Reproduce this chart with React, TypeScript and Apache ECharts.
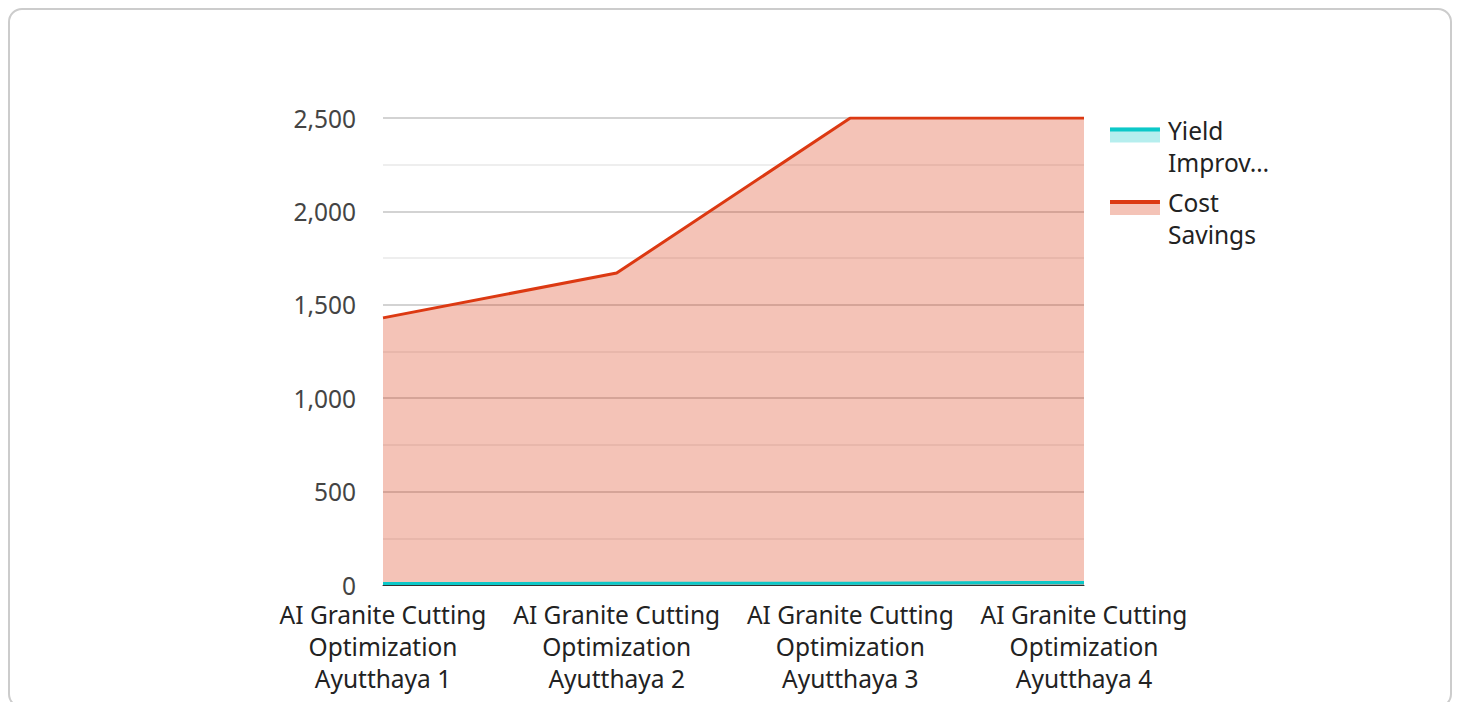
import React, { useEffect, useRef } from "react";
import * as echarts from "echarts";

const categories = [
  "AI Granite Cutting Optimization Ayutthaya 1",
  "AI Granite Cutting Optimization Ayutthaya 2",
  "AI Granite Cutting Optimization Ayutthaya 3",
  "AI Granite Cutting Optimization Ayutthaya 4",
];
const yieldImprovement = [8, 9, 10, 14];
const costSavings = [1430, 1670, 2500, 2500];
const seriesNames = ["Yield Improvement", "Cost Savings"];
const legendLines: Record<string, string[]> = {
  "Yield Improvement": ["Yield", "Improv…"],
  "Cost Savings": ["Cost", "Savings"],
};

export default function App() {
  const ref = useRef<HTMLDivElement>(null);
  useEffect(() => {
    if (!ref.current) return;
    const chart = echarts.init(ref.current, undefined, { renderer: "svg" });
    const font = "'Noto Sans', sans-serif";
    const fs = 24.5;
    const legendFmt = (n: string) => {
      const l = legendLines[n] ?? [n];
      return "{g|}\n" + l.map((s) => "{t|" + s + "}").join("\n");
    };
    const mkText = (color: string) => ({
      fontFamily: font,
      fontSize: fs,
      color,
      rich: {
        g: { lineHeight: 22, fontSize: 12, fontFamily: font },
        t: { lineHeight: 32, fontSize: fs, color, fontFamily: font, padding: [0, 0, 0, 3] },
      },
    });
    const legendBase = {
      orient: "vertical",
      left: 1095,
      top: 82,
      itemWidth: 50,
      itemHeight: 15,
      itemGap: -5,
      data: seriesNames,
      selectedMode: false,
      formatter: legendFmt,
    };
    chart.setOption({
      animation: false,
      textStyle: { fontFamily: font },
      grid: { left: 373, top: 108, right: 366, bottom: 121 },
      legend: [
        {
          ...legendBase,
          icon: "rect",
          itemStyle: { opacity: 0.3 },
          textStyle: mkText("#222"),
        },
        {
          ...legendBase,
          icon: "path://M0,0H50V4H0Z M0,15H50V15.01H0Z",
          textStyle: mkText("rgba(0,0,0,0)"),
        },
      ],
      xAxis: {
        type: "category",
        boundaryGap: false,
        data: categories,
        axisTick: { show: false },
        axisLine: { show: true, lineStyle: { color: "#333", width: 1 } },
        axisLabel: {
          interval: 0,
          fontFamily: font,
          fontSize: fs,
          lineHeight: 32,
          color: "#222",
          margin: 13,
          formatter: (v: string) => v.replace("Cutting ", "Cutting\n").replace("Optimization ", "Optimization\n"),
        },
        splitLine: { show: false },
      },
      yAxis: {
        type: "value",
        min: 0,
        max: 2500,
        interval: 500,
        axisLine: { show: false },
        axisTick: { show: false },
        axisLabel: { fontFamily: font, fontSize: fs, lineHeight: 18, color: "#444", margin: 27 },
        splitLine: { show: true, lineStyle: { color: "#c4c4c4", width: 1.5 } },
        minorTick: { show: false, splitNumber: 2 },
        minorSplitLine: { show: true, lineStyle: { color: "#e8e8e8", width: 1.5 } },
      },
      series: [
        {
          name: seriesNames[0],
          type: "line",
          data: yieldImprovement,
          symbol: "none",
          lineStyle: { color: "#0cc8c8", width: 3 },
          itemStyle: { color: "#0cc8c8" },
          areaStyle: { color: "#0cc8c8", opacity: 0.3 },
          z: 3,
        },
        {
          name: seriesNames[1],
          type: "line",
          data: costSavings,
          symbol: "none",
          lineStyle: { color: "#dc3912", width: 3 },
          itemStyle: { color: "#dc3912" },
          areaStyle: { color: "#dc3912", opacity: 0.3 },
          z: 2,
        },
      ],
    });
    return () => chart.dispose();
  }, []);
  return (
    <div
      style={{
        width: 1444,
        height: 700,
        boxSizing: "border-box",
        border: "2px solid #cccccc",
        borderRadius: 14,
        overflow: "hidden",
        background: "#fff",
      }}
    >
      <div ref={ref} style={{ width: 1440, height: 696 }} />
    </div>
  );
}
